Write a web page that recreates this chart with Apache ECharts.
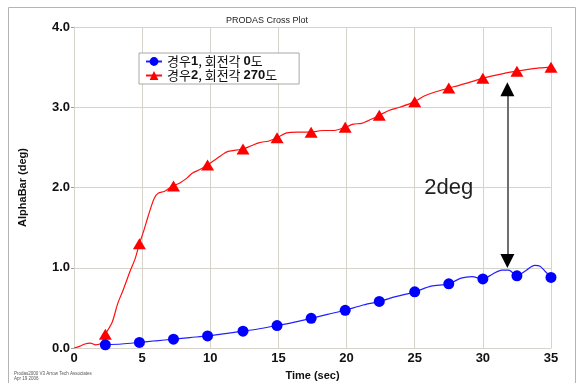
<!DOCTYPE html>
<html>
<head>
<meta charset="utf-8">
<script src="https://cdn.jsdelivr.net/npm/echarts@6/dist/echarts.min.js"></script>
<style>
  html, body { margin: 0; padding: 0; background: #fff; }
  #chart { width: 582px; height: 383px; }
</style>
</head>
<body>
<div id="chart"></div>
<script>
// Time axis ticks and axis ranges
const timeTicks = [0, 5, 10, 15, 20, 25, 30, 35];
const alphaTicks = [0, 1, 2, 3, 4];

// Times at which the series markers are drawn
const markerTimes = [2.3, 4.8, 7.3, 9.8, 12.4, 14.9, 17.4, 19.9, 22.4, 25.0, 27.5, 30.0, 32.5, 35.0];

// Case 1: spin angle 0 deg
const case1Name = '경우1, 회전각 0도';
const case1Time = [2.3, 3.5, 4.8, 6.0, 7.3, 8.5, 9.8, 11.1, 12.4, 13.6, 14.9, 16.1, 17.4, 18.6, 19.9, 21.1, 22.4, 23.6, 25.0, 26.2, 27.5, 28.4, 29.2, 30.0, 30.7, 31.4, 31.9, 32.5, 33.2, 33.8, 34.2, 34.6, 35.0];
const case1Alpha = [0.04, 0.05, 0.07, 0.09, 0.11, 0.13, 0.15, 0.18, 0.21, 0.24, 0.28, 0.32, 0.37, 0.42, 0.47, 0.53, 0.58, 0.64, 0.70, 0.77, 0.80, 0.87, 0.89, 0.86, 0.92, 0.97, 0.97, 0.90, 0.97, 1.03, 1.02, 0.95, 0.88];

// Case 2: spin angle 270 deg
const case2Name = '경우2, 회전각 270도';
const case2Time = [0, 0.4, 0.8, 1.2, 1.6, 2.0, 2.3, 2.8, 3.2, 3.6, 4.1, 4.5, 4.8, 5.1, 5.4, 5.7, 5.9, 6.2, 6.6, 6.9, 7.3, 7.8, 8.3, 8.7, 9.2, 9.8, 10.3, 10.8, 11.3, 12.4, 13.0, 13.6, 14.3, 14.9, 15.6, 16.4, 17.4, 18.2, 19.0, 19.9, 20.5, 21.1, 21.8, 22.4, 23.1, 23.9, 25.0, 25.7, 26.5, 27.5, 28.2, 29.0, 30.0, 30.7, 31.5, 32.5, 33.2, 34.2, 35.0];
const case2Alpha = [0.00, 0.02, 0.05, 0.06, 0.04, 0.06, 0.17, 0.32, 0.55, 0.72, 0.95, 1.12, 1.30, 1.45, 1.62, 1.78, 1.87, 1.93, 1.95, 1.98, 2.02, 2.06, 2.12, 2.18, 2.22, 2.28, 2.34, 2.40, 2.45, 2.48, 2.52, 2.56, 2.58, 2.62, 2.68, 2.69, 2.69, 2.71, 2.71, 2.75, 2.79, 2.80, 2.85, 2.90, 2.96, 3.00, 3.07, 3.14, 3.19, 3.24, 3.27, 3.31, 3.36, 3.39, 3.42, 3.45, 3.47, 3.49, 3.50];

// Difference annotation (double arrow between the two curves)
const arrowTime = 31.8;
const arrowFrom = 1.0;
const arrowTo = 3.31;
const arrowHeadLength = 0.17;
const arrowLabel = '2deg';
const arrowLabelAt = [27.5, 2.0];

function buildData(times, values) {
  return times.map((t, i) => {
    const item = { value: [t, values[i]] };
    if (!markerTimes.some(m => Math.abs(m - t) < 1e-6)) item.symbol = 'none';
    return item;
  });
}

const chart = echarts.init(document.getElementById('chart'), null, { renderer: 'canvas' });
const gridColor = '#d6d3cb';
const labelFont = 'Liberation Sans, Arial, sans-serif';

chart.setOption({
  animation: false,
  backgroundColor: '#ffffff',
  title: {
    text: 'PRODAS Cross Plot',
    left: 262, top: 11, textAlign: 'center',
    textStyle: { fontSize: 9, fontWeight: 'normal', color: '#222', fontFamily: labelFont }
  },
  graphic: [
    { type: 'rect', shape: { x: 8.5, y: 7.5, width: 567, height: 380 }, style: { fill: 'none', stroke: '#b4b4b4', lineWidth: 1 }, silent: true },
    { type: 'text', left: 14, top: 371, style: { text: 'Prodas2000 V3 Arrow Tech Associates\nApr 19 2006', fontSize: 4.5, lineHeight: 5, fill: '#555', fontFamily: labelFont } }
  ],
  legend: {
    orient: 'vertical',
    left: 139, top: 53,
    backgroundColor: '#fff',
    borderColor: '#a8a8a8', borderWidth: 1,
    padding: [2, 22, 2, 6],
    itemGap: 1,
    itemWidth: 16, itemHeight: 11,
    data: [case1Name, case2Name],
    formatter: name => name.replace(/(\d+)/g, '{b|$1}'),
    textStyle: {
      fontSize: 13, color: '#111',
      fontFamily: 'Noto Sans CJK KR, sans-serif',
      rich: { b: { fontSize: 13, fontWeight: 'bold', fontFamily: labelFont, color: '#111' } }
    }
  },
  grid: { left: 74, right: 31, top: 27, bottom: 35, outerBoundsMode: 'none' },
  xAxis: {
    type: 'value', min: timeTicks[0], max: timeTicks[timeTicks.length - 1], interval: 5,
    name: 'Time (sec)', nameLocation: 'middle', nameGap: 22,
    nameTextStyle: { fontSize: 11, fontWeight: 'bold', color: '#111', fontFamily: labelFont },
    axisLine: { lineStyle: { color: gridColor } },
    axisTick: { show: false },
    axisLabel: { fontSize: 13, fontWeight: 'bold', color: '#111', fontFamily: labelFont, margin: 4 },
    splitLine: { show: true, lineStyle: { color: gridColor, width: 1 } }
  },
  yAxis: {
    type: 'value', min: alphaTicks[0], max: alphaTicks[alphaTicks.length - 1], interval: 1,
    name: 'AlphaBar (deg)', nameLocation: 'middle', nameGap: 46, nameRotate: 90,
    nameTextStyle: { fontSize: 11, fontWeight: 'bold', color: '#111', fontFamily: labelFont },
    axisLine: { show: true, lineStyle: { color: gridColor } },
    axisTick: { show: true, length: 3, lineStyle: { color: '#999' } },
    axisLabel: { fontSize: 13, fontWeight: 'bold', color: '#111', fontFamily: labelFont, margin: 4, formatter: v => v.toFixed(1) },
    splitLine: { show: true, lineStyle: { color: gridColor, width: 1 } }
  },
  series: [
    {
      name: case1Name, type: 'line', smooth: 0.3,
      symbol: 'circle', symbolSize: 11, showSymbol: true, showAllSymbol: true,
      itemStyle: { color: '#0000ff' },
      lineStyle: { color: '#2020ff', width: 1.2 },
      data: buildData(case1Time, case1Alpha),
      z: 3
    },
    {
      name: case2Name, type: 'line', smooth: 0.3,
      symbol: 'triangle', symbolSize: [13, 11], showSymbol: true, showAllSymbol: true,
      itemStyle: { color: '#ff0000' },
      lineStyle: { color: '#ff1010', width: 1.2 },
      data: buildData(case2Time, case2Alpha),
      z: 2,
      markLine: {
        silent: true,
        symbol: ['none', 'none'],
        lineStyle: { color: '#6e6e6e', width: 2, type: 'solid' },
        label: { show: false },
        data: [[{ coord: [arrowTime, arrowFrom + arrowHeadLength] }, { coord: [arrowTime, arrowTo - arrowHeadLength] }]]
      },
      markPoint: {
        silent: true,
        data: [
          { coord: [arrowTime, arrowTo - arrowHeadLength / 2], symbol: 'triangle', symbolSize: [14, 14], itemStyle: { color: '#000' }, label: { show: false } },
          { coord: [arrowTime, arrowFrom + arrowHeadLength / 2], symbol: 'triangle', symbolRotate: 180, symbolSize: [14, 14], itemStyle: { color: '#000' }, label: { show: false } },
          { coord: arrowLabelAt, symbol: 'circle', symbolSize: 0,
            label: { show: true, position: 'inside', formatter: arrowLabel, fontSize: 22, color: '#222', fontFamily: labelFont } }
        ]
      }
    }
  ]
});
</script>
</body>
</html>
